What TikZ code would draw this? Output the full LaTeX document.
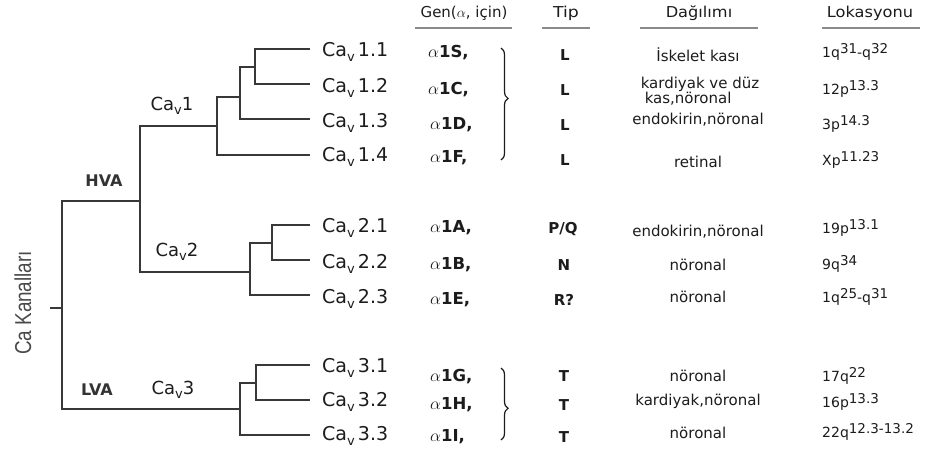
\documentclass[tikz,border=0pt]{standalone}
\usepackage{fontspec}
\setmainfont{DejaVu Sans}
\newfontfamily\narrowfont{Liberation Sans}
\usetikzlibrary{decorations.pathreplacing}
\definecolor{ink}{HTML}{1C1C1C}
\definecolor{treeline}{HTML}{383838}
\definecolor{rulegray}{HTML}{8A8A8A}
\newcommand\subv{\raisebox{-0.45ex}{\fontsize{13}{13}\selectfont v}}
\newcommand\cavs[1]{Ca\subv\,#1}
\newcommand\hi[1]{\raisebox{0.5ex}{\fontsize{13.5}{13}\selectfont #1}}
\newcommand\gn[1]{$\alpha$\textbf{#1}}
\newcommand\hstretch[2]{\scalebox{#1}[1]{#2}}
\begin{document}
\begin{tikzpicture}[x=1pt,y=-1pt,
 branch/.style={draw=treeline, line width=1.6pt},
 leaflab/.style={anchor=west, inner sep=0pt, font=\fontsize{19}{21}\selectfont, text=ink},
 gene/.style={anchor=west, inner sep=0pt, font=\fontsize{16.5}{18}\selectfont, text=ink},
 tiplab/.style={inner sep=0pt, font=\fontsize{15}{17}\selectfont\bfseries, text=ink},
 dist/.style={inner sep=0pt, font=\fontsize{15}{13.5}\selectfont, text=ink, align=center},
 loc/.style={anchor=west, inner sep=0pt, font=\fontsize{14}{15}\selectfont, text=ink},
 head/.style={inner sep=0pt, font=\fontsize{15}{17}\selectfont, text=ink},
 headrule/.style={draw=rulegray, line width=1.4pt},
 grp/.style={inner sep=0pt, font=\fontsize{18}{20}\selectfont, text=ink},
 volt/.style={inner sep=0pt, font=\fontsize{16}{18}\selectfont\bfseries, text=ink!90},
 brc/.style={draw=ink, line width=1.2pt, decorate}
]
\fill[white] (0,0) rectangle (931,456);
\useasboundingbox (0,0) rectangle (931,456);

% ---- tree coordinates
\coordinate (r0) at (50,308);
\coordinate (r) at (62,308);
\coordinate (hva) at (140,201);
\coordinate (lva) at (240,409);
\coordinate (c1) at (217,126);
\coordinate (c2) at (250,272);
\coordinate (n11) at (240,97);
\coordinate (n12) at (255,67);
\coordinate (n21) at (272,243);
\coordinate (n31) at (256,383);
\coordinate (e1) at (310,49);
\coordinate (e2) at (310,84);
\coordinate (e3) at (310,119);
\coordinate (e4) at (310,155);
\coordinate (e5) at (310,225);
\coordinate (e6) at (310,260);
\coordinate (e7) at (310,295);
\coordinate (e8) at (310,365);
\coordinate (e9) at (310,400);
\coordinate (e10) at (310,435);

\draw[branch] (r0) -- (r);
\draw[branch] (r) |- (hva);
\draw[branch] (r) |- (lva);
\draw[branch] (hva) |- (c1);
\draw[branch] (hva) |- (c2);
\draw[branch] (c1) |- (n11);
\draw[branch] (c1) |- (e4);
\draw[branch] (n11) |- (n12);
\draw[branch] (n11) |- (e3);
\draw[branch] (n12) |- (e1);
\draw[branch] (n12) |- (e2);
\draw[branch] (c2) |- (n21);
\draw[branch] (c2) |- (e7);
\draw[branch] (n21) |- (e5);
\draw[branch] (n21) |- (e6);
\draw[branch] (lva) |- (n31);
\draw[branch] (lva) |- (e10);
\draw[branch] (n31) |- (e8);
\draw[branch] (n31) |- (e9);

% ---- tree labels
\node[inner sep=0pt, rotate=90, text=ink!80] (root) at (23,303)
  {\narrowfont\fontsize{23}{25}\selectfont\scalebox{0.82}[1]{Ca Kanalları}};
\node[volt] (hvalab) at (104,181) {HVA};
\node[volt] (lvalab) at (97,390) {LVA};
\node[grp] (cav1) at (172,106) {Ca\subv1};
\node[grp] (cav2) at (177,252) {Ca\subv2};
\node[grp] (cav3) at (173,390) {Ca\subv3};

% ---- leaf labels
\node[leaflab] (l1) at (322,52) {\cavs{1.1}};
\node[leaflab] (l2) at (322,88) {\cavs{1.2}};
\node[leaflab] (l3) at (322,123) {\cavs{1.3}};
\node[leaflab] (l4) at (322,157) {\cavs{1.4}};
\node[leaflab] (l5) at (322,228) {\cavs{2.1}};
\node[leaflab] (l6) at (322,264) {\cavs{2.2}};
\node[leaflab] (l7) at (322,299) {\cavs{2.3}};
\node[leaflab] (l8) at (322,368) {\cavs{3.1}};
\node[leaflab] (l9) at (322,402) {\cavs{3.2}};
\node[leaflab] (l10) at (322,436) {\cavs{3.3}};

% ---- headers
\node[head] (hgen) at (464,13) {Gen($\alpha$, için)};
\node[head] (htip) at (566,13) {\hstretch{1.15}{Tip}};
\node[head] (hdag) at (699,13) {\hstretch{1.08}{Dağılımı}};
\node[head] (hlok) at (870,13) {\hstretch{1.08}{Lokasyonu}};
\draw[headrule] (415,28) -- (512,28);
\draw[headrule] (542,28) -- (590,28);
\draw[headrule] (640,28) -- (758,28);
\draw[headrule] (822,28) -- (920,28);

% ---- genes
\node[gene] (g1) at (428,53) {\gn{1S,}};
\node[gene] (g2) at (428,90) {\gn{1C,}};
\node[gene] (g3) at (430,125) {\gn{1D,}};
\node[gene] (g4) at (430,158) {\gn{1F,}};
\node[gene] (g5) at (430,228) {\gn{1A,}};
\node[gene] (g6) at (430,265) {\gn{1B,}};
\node[gene] (g7) at (430,300) {\gn{1E,}};
\node[gene] (g8) at (430,377) {\gn{1G,}};
\node[gene] (g9) at (430,405) {\gn{1H,}};
\node[gene] (g10) at (430,437) {\gn{1I,}};

% ---- braces
\draw[brc, decoration={brace, amplitude=7pt, aspect=0.45}] (501,48) -- (501,160);
\draw[brc, decoration={brace, amplitude=7pt, aspect=0.56}] (501,368) -- (501,440);

% ---- types
\node[tiplab] (t1) at (565,55) {L};
\node[tiplab] (t2) at (565,90) {L};
\node[tiplab] (t3) at (565,125) {L};
\node[tiplab] (t4) at (565,160) {L};
\node[tiplab] (t5) at (563,229) {P/Q};
\node[tiplab] (t6) at (564,265) {N};
\node[tiplab] (t7) at (564,300) {R?};
\node[tiplab] (t8) at (564,376) {T};
\node[tiplab] (t9) at (564,405) {T};
\node[tiplab] (t10) at (564,437) {T};

% ---- distribution
\node[dist] (d1) at (698,55) {İskelet kası};
\node[dist, align=left] (d2) at (700,91) {kardiyak ve düz\\[-0.5pt]\hspace*{4pt}kas,nöronal};
\node[dist] (d3) at (698,120) {endokirin,nöronal};
\node[dist] (d4) at (698,162) {retinal};
\node[dist] (d5) at (698,232) {endokirin,nöronal};
\node[dist] (d6) at (698,265) {nöronal};
\node[dist] (d7) at (698,297) {nöronal};
\node[dist] (d8) at (698,376) {nöronal};
\node[dist] (d9) at (698,401) {kardiyak,nöronal};
\node[dist] (d10) at (698,433) {nöronal};

% ---- location
\node[loc] (k1) at (822,52) {1q\hi{31}-q\hi{32}};
\node[loc] (k2) at (822,89) {12p\hi{13.3}};
\node[loc] (k3) at (822,124) {3p\hi{14.3}};
\node[loc] (k4) at (822,160) {Xp\hi{11.23}};
\node[loc] (k5) at (822,228) {19p\hi{13.1}};
\node[loc] (k6) at (822,264) {9q\hi{34}};
\node[loc] (k7) at (822,297) {1q\hi{25}-q\hi{31}};
\node[loc] (k8) at (822,376) {17q\hi{22}};
\node[loc] (k9) at (822,402) {16p\hi{13.3}};
\node[loc] (k10) at (822,432) {22q\hi{12.3-13.2}};
\end{tikzpicture}
\end{document}
